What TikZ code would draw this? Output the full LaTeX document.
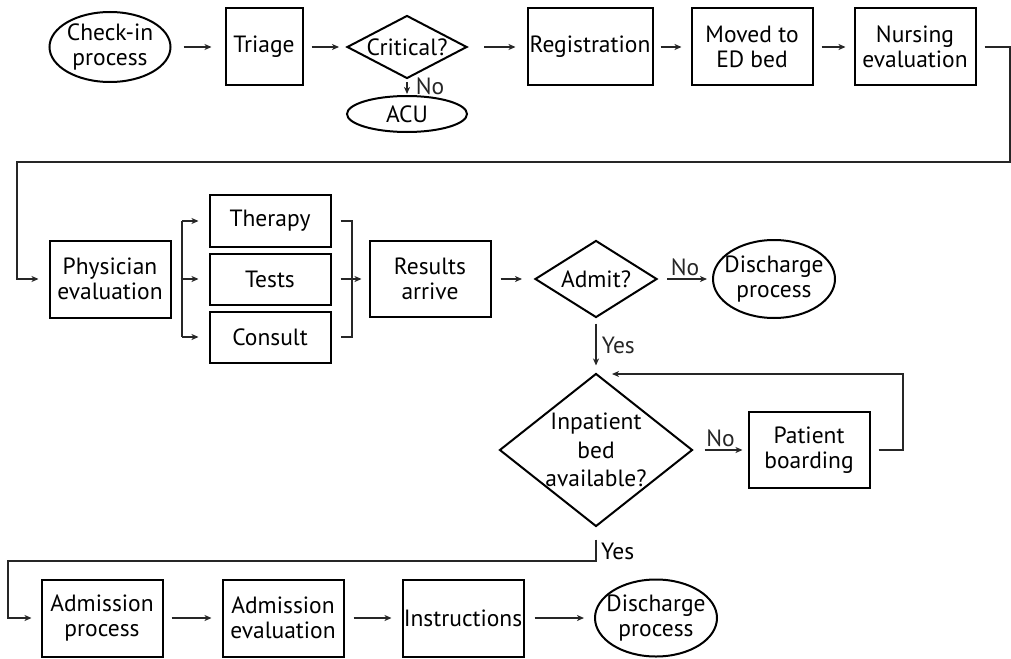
\documentclass[tikz,border=0pt]{standalone}
\usepackage{fontspec}
\setmainfont{PT Sans}
\usetikzlibrary{shapes.geometric,arrows.meta}
\newcommand{\dfont}{\fontsize{23.5}{24.5}\selectfont}
\begin{document}
\begin{tikzpicture}[x=1pt,y=-1pt,
  proc/.style={draw, rectangle, line width=2pt, inner sep=0pt, align=center,
    minimum width=121pt, minimum height=77pt, font=\dfont},
  term/.style={draw, ellipse, line width=2pt, inner sep=0pt,
    minimum width=121pt, minimum height=77pt},
  dec/.style={draw, diamond, line width=2pt, inner sep=0pt},
  txt/.style={align=center, font=\dfont},
  conn/.style={line width=1.8pt, color=black!85},
  arr/.style={conn, -{Stealth[length=7pt,width=6pt,inset=2pt]}},
  lbl/.style={font=\dfont, inner sep=1pt}
]
\useasboundingbox (0,0) rectangle (1011,658);

% top row
\node[term, minimum height=70pt, label={[txt]center:Check-in\\process}] (checkin) at (110,47) {};
\node[proc, minimum width=77pt] (triage) at (264,47) {Triage};
\node[dec, minimum width=120pt, minimum height=63pt, label={[txt]center:Critical?}] (crit) at (407,47) {};
\node[term, minimum width=120pt, minimum height=36pt, label={[txt]center:ACU}] (acu) at (407,114) {};
\node[proc, minimum width=125pt] (reg) at (590,47) {Registration};
\node[proc] (moved) at (752,47) {Moved to\\ED bed};
\node[proc] (nurse) at (915,47) {Nursing\\evaluation};

% middle row
\node[proc] (phys) at (110,279) {Physician\\evaluation};
\node[proc, minimum height=52pt] (ther) at (270,221) {Therapy};
\node[proc, minimum height=51pt] (tests) at (270,279) {Tests};
\node[proc, minimum height=51pt] (cons) at (270,337) {Consult};
\node[proc, minimum height=76pt] (res) at (430,279) {Results\\arrive};
\node[dec, minimum width=122pt, minimum height=77pt, label={[txt]center:Admit?}] (admit) at (596,279) {};
\node[term, minimum width=122pt, minimum height=78pt, label={[txt]center:Discharge\\process}] (dis1) at (774,279) {};

% decision row
\node[dec, minimum width=193pt, minimum height=153pt,
  label={[txt, font=\fontsize{23.5}{28.5}\selectfont]center:Inpatient\\bed\\available?}] (inp) at (596,450) {};
\node[proc, minimum height=76pt] (board) at (809,450) {Patient\\boarding};

% bottom row
\node[proc] (adm) at (102,618) {Admission\\process};
\node[proc] (adme) at (283,618) {Admission\\evaluation};
\node[proc] (instr) at (463,618) {Instructions};
\node[term, minimum width=122pt, minimum height=77pt, label={[txt]center:Discharge\\process}] (dis2) at (656,618) {};

% coordinates
\coordinate (c1) at (1010,47);
\coordinate (c2) at (1010,162);
\coordinate (c3) at (17,162);
\coordinate (c4) at (17,279);
\coordinate (spT) at (182,221);
\coordinate (spC) at (182,337);
\coordinate (mT) at (352,221);
\coordinate (mC) at (352,337);
\coordinate (mM) at (352,279);
\coordinate (b1) at (903,450);
\coordinate (b2) at (903,374);
\coordinate (b3) at (612,374);
\coordinate (y1) at (596,561);
\coordinate (y2) at (8,561);
\coordinate (y3) at (8,618);

% top connectors
\draw[arr, shorten <=12pt, shorten >=13pt] (checkin) -- (triage);
\draw[arr, shorten <=8pt, shorten >=7pt] (triage) -- (crit);
\draw[arr, shorten <=16pt, shorten >=11pt] (crit) -- (reg);
\draw[arr, shorten <=3pt, shorten >=1pt] (crit.south) -- (acu.north)
  node[lbl, pos=0.45, anchor=west, xshift=7pt] {No};
\draw[arr, shorten <=7pt, shorten >=9pt] (reg) -- (moved);
\draw[arr, shorten <=8pt, shorten >=8pt] (moved) -- (nurse);
\draw[arr, shorten <=8pt, shorten >=10pt] (nurse.east) -- (c1) -- (c2) -- (c3) -- (c4) -- (phys.west);

% branching
\draw[arr, shorten <=9pt, shorten >=10pt] (phys.east) -- (tests.west);
\draw[conn] (spT) -- (spC);
\draw[arr, shorten >=10pt] (spT) -- (ther.west);
\draw[arr, shorten >=10pt] (spC) -- (cons.west);
\draw[conn, shorten <=9pt, shorten >=9pt] (ther.east) -- (mT) -- (mC) -- (cons.east);
\draw[conn, shorten <=9pt] (tests.east) -- (mM);
\draw[arr, shorten >=7pt] (mM) -- (res.west);
\draw[arr, shorten <=9pt, shorten >=12pt] (res) -- (admit);
\draw[arr, shorten <=9pt, shorten >=5pt] (admit.east) -- (dis1.west)
  node[lbl, midway, above, yshift=1pt] {No};
\draw[arr, shorten <=5pt, shorten >=7pt] (admit.south) -- (inp.north)
  node[lbl, midway, anchor=west, xshift=4pt] {Yes};
\draw[arr, shorten <=11pt, shorten >=5pt] (inp.east) -- (board.west)
  node[lbl, midway, above, yshift=1pt] {No};
\draw[arr, shorten <=8pt] (board.east) -- (b1) -- (b2) -- (b3);
\draw[arr, shorten <=12pt, shorten >=9pt] (inp.south) -- (y1) -- (y2) -- (y3) -- (adm.west);
\node[lbl, anchor=west] (yeslbl) at (600,551) {Yes};

% bottom connectors
\draw[arr, shorten <=8pt, shorten >=10pt] (adm) -- (adme);
\draw[arr, shorten <=9pt, shorten >=10pt] (adme) -- (instr);
\draw[arr, shorten <=10pt, shorten >=10pt] (instr) -- (dis2);
\end{tikzpicture}
\end{document}
